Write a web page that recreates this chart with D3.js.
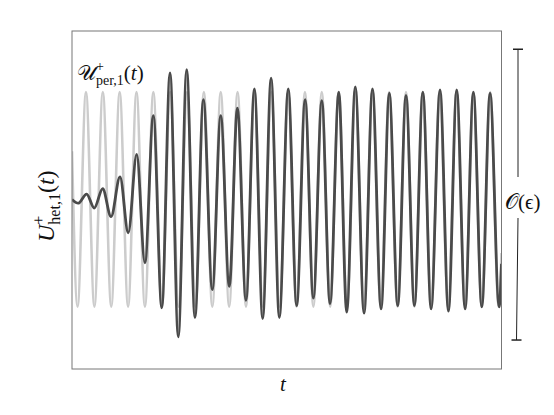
<!DOCTYPE html>
<html>
<head>
<meta charset="utf-8">
<script src="https://cdn.jsdelivr.net/npm/d3@7"></script>
<style>
  body { margin: 0; background: #fff; }
  text { font-family: "Liberation Serif", "DejaVu Serif", serif; fill: #111; }
</style>
</head>
<body>
<svg id="chart" width="554" height="415"></svg>
<script>
// periodic reference signal: extrema (t in periods)
var perT = [0, 0.33, 0.83, 1.33, 1.83, 2.33, 2.83, 3.33, 3.83, 4.33, 4.83, 5.33, 5.83, 6.33, 6.83,
            7.33, 7.83, 8.33, 8.83, 9.33, 9.83, 10.33, 10.83, 11.33, 11.83, 12.33, 12.83, 13.33, 13.83,
            14.33, 14.83, 15.33, 15.83, 16.33, 16.83, 17.33, 17.83, 18.33, 18.83, 19.33, 19.83, 20.33,
            20.83, 21.33, 21.83, 22.33, 22.83, 23.33, 23.83, 24.33, 24.83, 25.33, 25.5];
var perV = [0.45, -1, 1, -1, 1, -1, 1, -1, 1, -1, 1, -1, 1, -1, 1,
            -1, 1, -1, 1, -1, 1, -1, 1, -1, 1, -1, 1, -1, 1,
            -1, 1, -1, 1, -1, 1, -1, 1, -1, 1, -1, 1, -1,
            1, -1, 1, -1, 1, -1, 1, -1, 1, -1, -0.5];

// heteroclinic signal: extrema
var hetT = [0, 0.36, 0.87, 1.32, 1.82, 2.32, 2.85, 3.34, 3.84, 4.33, 4.83, 5.33, 5.82, 6.31, 6.81,
            7.30, 7.80, 8.33, 8.83, 9.34, 9.82, 10.33, 10.83, 11.32, 11.82, 12.31, 12.84, 13.34, 13.84,
            14.33, 14.83, 15.32, 15.84, 16.31, 16.82, 17.34, 17.84, 18.35, 18.84, 19.34, 19.83, 20.33,
            20.83, 21.32, 21.85, 22.35, 22.84, 23.34, 23.83, 24.33, 24.82, 25.36, 25.5];
var hetV = [0.00, -0.035, 0.05, -0.08, 0.10, -0.16, 0.21, -0.31, 0.42, -0.59, 0.78, -1.01, 1.18, -1.28, 1.21,
            -1.10, 0.93, -0.84, 0.78, -0.81, 0.85, -0.94, 1.03, -1.11, 1.13, -1.10, 1.03, -0.99, 0.93,
            -0.92, 0.92, -0.97, 1.00, -1.05, 1.05, -1.06, 1.03, -1.02, 0.99, -0.99, 0.97, -0.99,
            1.00, -1.02, 1.02, -1.04, 1.02, -1.02, 1.00, -1.00, 0.99, -1.00, -0.6];

var tRange = [0, 25.5];
var vRange = [-1.58, 1.57];

var svg = d3.select("#chart");
var plotLeft = 72, plotRight = 501.5, plotTop = 31, plotBottom = 369;

var x = d3.scaleLinear().domain(tRange).range([plotLeft, plotRight]);
var y = d3.scaleLinear().domain(vRange).range([plotBottom, plotTop]);

svg.append("clipPath").attr("id", "clip")
  .append("rect")
  .attr("x", plotLeft).attr("y", plotTop)
  .attr("width", plotRight - plotLeft).attr("height", plotBottom - plotTop);

var line = d3.line()
  .x(d => x(d[0]))
  .y(d => y(d[1]))
  .curve(d3.curveMonotoneX);

var g = svg.append("g").attr("clip-path", "url(#clip)");

g.append("path")
  .datum(d3.zip(perT, perV))
  .attr("d", line)
  .attr("fill", "none")
  .attr("stroke", "#cccccc")
  .attr("stroke-width", 2.6);

g.append("path")
  .datum(d3.zip(hetT, hetV))
  .attr("d", line)
  .attr("fill", "none")
  .attr("stroke", "#4a4a4a")
  .attr("stroke-width", 2.8);

// frame
svg.append("rect")
  .attr("x", plotLeft).attr("y", plotTop)
  .attr("width", plotRight - plotLeft).attr("height", plotBottom - plotTop)
  .attr("fill", "none")
  .attr("stroke", "#777")
  .attr("stroke-width", 1);

// O(eps) bracket on the right
var bx = 518;
var br = svg.append("g").attr("stroke", "#222").attr("stroke-width", 1);
br.append("line").attr("x1", bx).attr("x2", bx).attr("y1", y(1.4)).attr("y2", 177);
br.append("line").attr("x1", bx - 5).attr("x2", bx + 5).attr("y1", y(1.4)).attr("y2", y(1.4)).attr("stroke-width", 1.5);
br.append("line").attr("x1", bx).attr("x2", bx - 1.5).attr("y1", 218).attr("y2", y(-1.31));
br.append("line").attr("x1", bx - 6.5).attr("x2", bx + 3.5).attr("y1", y(-1.31)).attr("y2", y(-1.31)).attr("stroke-width", 1.5);

svg.append("text")
  .attr("x", 505).attr("y", 209)
  .style("font-size", "21px")
  .text("𝒪(ϵ)");

// curve label
var lab = svg.append("text").attr("x", 77).attr("y", 80).style("font-size", "21px");
lab.append("tspan").text("𝒰");
lab.append("tspan").attr("dy", -9).style("font-size", "14px").text("+");
lab.append("tspan").attr("dx", -7.9).attr("dy", 14).style("font-size", "14px").text("per,1");
lab.append("tspan").attr("dy", -5).text("(");
lab.append("tspan").style("font-style", "italic").text("t");
lab.append("tspan").text(")");

// y label
var yl = svg.append("text")
  .attr("transform", "translate(54,242) rotate(-90)")
  .style("font-size", "24px");
yl.append("tspan").style("font-style", "italic").text("U");
yl.append("tspan").attr("dy", -10).style("font-size", "16px").text("+");
yl.append("tspan").attr("dx", -9).attr("dy", 16).style("font-size", "16px").text("het,1");
yl.append("tspan").attr("dy", -6).text("(");
yl.append("tspan").style("font-style", "italic").text("t");
yl.append("tspan").text(")");

// x label
svg.append("text")
  .attr("x", 283).attr("y", 391)
  .attr("text-anchor", "middle")
  .style("font-size", "21px")
  .style("font-style", "italic")
  .text("t");
</script>
</body>
</html>
